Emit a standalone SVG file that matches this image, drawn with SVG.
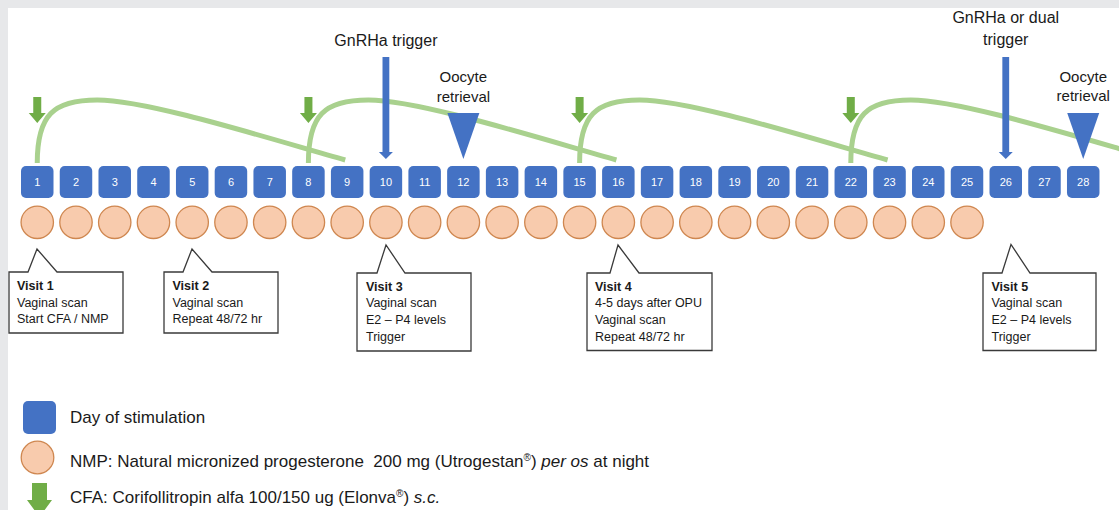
<svg xmlns="http://www.w3.org/2000/svg" width="1119" height="510" viewBox="0 0 1119 510">
<style>
.day rect{fill:#4472C4}
.day text{fill:#fff;font-family:"Liberation Sans",Arial,sans-serif;font-size:11px;text-anchor:middle}
.nmp circle{fill:#F8CBAD;stroke:#CF8750;stroke-width:1.3}
.curve{fill:none;stroke:#A9D18E;stroke-width:5;stroke-linecap:butt}
.cfa{fill:#70AD47}
.trig{fill:#4472C4}
.lbl{font-family:"Liberation Sans",Arial,sans-serif;font-size:16px;fill:#1a1a1a;text-anchor:middle}
.lbl2{font-family:"Liberation Sans",Arial,sans-serif;font-size:15px;fill:#1a1a1a;text-anchor:middle}
.call path{fill:#fff;stroke:#3a3a3a;stroke-width:1.3}
.call text{font-family:"Liberation Sans",Arial,sans-serif;font-size:12.5px;fill:#1a1a1a}
.call .b{font-weight:bold}
.leg{font-family:"Liberation Sans",Arial,sans-serif;font-size:17px;fill:#1a1a1a}
</style>
<defs>
<path id="garrow" d="M-4,0 H4 V16 H8.5 L0,26 L-8.5,16 H-4 Z"/>
<path id="barrow" d="M-3.4,0 H3.4 V95 H7 L0,102 L-7,95 H-3.4 Z"/>
<path id="tri" d="M-16,0 H16 L0,46 Z"/>
<path id="gcurve" d="M0,163 C0,115 16,100 60,100 C110,100 230,138 308,160"/>
</defs>
<rect x="0" y="0" width="1119" height="510" fill="#E7E8EA"/>
<rect x="8" y="8" width="1111" height="502" fill="#fff"/>

<g id="connectors">
<use href="#gcurve" class="curve" x="37.25"/>
<use href="#gcurve" class="curve" x="308.4"/>
<use href="#gcurve" class="curve" x="579.6"/>
<use href="#gcurve" class="curve" x="850.8"/>
</g>

<g id="days">
<g id="day1" class="day"><rect x="21" y="166" width="32.5" height="32" rx="5"/><text x="37.25" y="186">1</text></g>
<g id="day2" class="day"><rect x="59.74" y="166" width="32.5" height="32" rx="5"/><text x="75.99" y="186">2</text></g>
<g id="day3" class="day"><rect x="98.48" y="166" width="32.5" height="32" rx="5"/><text x="114.73" y="186">3</text></g>
<g id="day4" class="day"><rect x="137.22" y="166" width="32.5" height="32" rx="5"/><text x="153.47" y="186">4</text></g>
<g id="day5" class="day"><rect x="175.96" y="166" width="32.5" height="32" rx="5"/><text x="192.21" y="186">5</text></g>
<g id="day6" class="day"><rect x="214.7" y="166" width="32.5" height="32" rx="5"/><text x="230.95" y="186">6</text></g>
<g id="day7" class="day"><rect x="253.44" y="166" width="32.5" height="32" rx="5"/><text x="269.69" y="186">7</text></g>
<g id="day8" class="day"><rect x="292.18" y="166" width="32.5" height="32" rx="5"/><text x="308.43" y="186">8</text></g>
<g id="day9" class="day"><rect x="330.92" y="166" width="32.5" height="32" rx="5"/><text x="347.17" y="186">9</text></g>
<g id="day10" class="day"><rect x="369.66" y="166" width="32.5" height="32" rx="5"/><text x="385.91" y="186">10</text></g>
<g id="day11" class="day"><rect x="408.4" y="166" width="32.5" height="32" rx="5"/><text x="424.65" y="186">11</text></g>
<g id="day12" class="day"><rect x="447.14" y="166" width="32.5" height="32" rx="5"/><text x="463.39" y="186">12</text></g>
<g id="day13" class="day"><rect x="485.88" y="166" width="32.5" height="32" rx="5"/><text x="502.13" y="186">13</text></g>
<g id="day14" class="day"><rect x="524.62" y="166" width="32.5" height="32" rx="5"/><text x="540.87" y="186">14</text></g>
<g id="day15" class="day"><rect x="563.36" y="166" width="32.5" height="32" rx="5"/><text x="579.61" y="186">15</text></g>
<g id="day16" class="day"><rect x="602.1" y="166" width="32.5" height="32" rx="5"/><text x="618.35" y="186">16</text></g>
<g id="day17" class="day"><rect x="640.84" y="166" width="32.5" height="32" rx="5"/><text x="657.09" y="186">17</text></g>
<g id="day18" class="day"><rect x="679.58" y="166" width="32.5" height="32" rx="5"/><text x="695.83" y="186">18</text></g>
<g id="day19" class="day"><rect x="718.32" y="166" width="32.5" height="32" rx="5"/><text x="734.57" y="186">19</text></g>
<g id="day20" class="day"><rect x="757.06" y="166" width="32.5" height="32" rx="5"/><text x="773.31" y="186">20</text></g>
<g id="day21" class="day"><rect x="795.8" y="166" width="32.5" height="32" rx="5"/><text x="812.05" y="186">21</text></g>
<g id="day22" class="day"><rect x="834.54" y="166" width="32.5" height="32" rx="5"/><text x="850.79" y="186">22</text></g>
<g id="day23" class="day"><rect x="873.28" y="166" width="32.5" height="32" rx="5"/><text x="889.53" y="186">23</text></g>
<g id="day24" class="day"><rect x="912.02" y="166" width="32.5" height="32" rx="5"/><text x="928.27" y="186">24</text></g>
<g id="day25" class="day"><rect x="950.76" y="166" width="32.5" height="32" rx="5"/><text x="967.01" y="186">25</text></g>
<g id="day26" class="day"><rect x="989.5" y="166" width="32.5" height="32" rx="5"/><text x="1005.75" y="186">26</text></g>
<g id="day27" class="day"><rect x="1028.24" y="166" width="32.5" height="32" rx="5"/><text x="1044.49" y="186">27</text></g>
<g id="day28" class="day"><rect x="1066.98" y="166" width="32.5" height="32" rx="5"/><text x="1083.23" y="186">28</text></g>
</g>

<g id="nmp" class="nmp">
<circle cx="37.25" cy="222.3" r="16.2"/><circle cx="75.99" cy="222.3" r="16.2"/><circle cx="114.73" cy="222.3" r="16.2"/><circle cx="153.47" cy="222.3" r="16.2"/><circle cx="192.21" cy="222.3" r="16.2"/><circle cx="230.95" cy="222.3" r="16.2"/><circle cx="269.69" cy="222.3" r="16.2"/><circle cx="308.43" cy="222.3" r="16.2"/><circle cx="347.17" cy="222.3" r="16.2"/><circle cx="385.91" cy="222.3" r="16.2"/><circle cx="424.65" cy="222.3" r="16.2"/><circle cx="463.39" cy="222.3" r="16.2"/><circle cx="502.13" cy="222.3" r="16.2"/><circle cx="540.87" cy="222.3" r="16.2"/><circle cx="579.61" cy="222.3" r="16.2"/><circle cx="618.35" cy="222.3" r="16.2"/><circle cx="657.09" cy="222.3" r="16.2"/><circle cx="695.83" cy="222.3" r="16.2"/><circle cx="734.57" cy="222.3" r="16.2"/><circle cx="773.31" cy="222.3" r="16.2"/><circle cx="812.05" cy="222.3" r="16.2"/><circle cx="850.79" cy="222.3" r="16.2"/><circle cx="889.53" cy="222.3" r="16.2"/><circle cx="928.27" cy="222.3" r="16.2"/><circle cx="967.01" cy="222.3" r="16.2"/>
</g>

<g id="cfa-doses" class="cfa">
<use href="#garrow" x="37.25" y="97"/>
<use href="#garrow" x="308.43" y="97"/>
<use href="#garrow" x="579.61" y="97"/>
<use href="#garrow" x="850.79" y="97"/>
</g>

<g id="trigger1"><use href="#barrow" class="trig" x="385.91" y="57"/><text class="lbl" x="385.91" y="46">GnRHa trigger</text></g>
<g id="opu1"><use href="#tri" class="trig" x="463.39" y="113"/><text class="lbl2" x="463.39" y="82">Oocyte</text><text class="lbl2" x="463.39" y="102">retrieval</text></g>
<g id="trigger2"><use href="#barrow" class="trig" x="1005.75" y="57"/><text class="lbl" x="1005.75" y="23">GnRHa or dual</text><text class="lbl" x="1005.75" y="45">trigger</text></g>
<g id="opu2"><use href="#tri" class="trig" x="1083.23" y="113"/><text class="lbl2" x="1083.23" y="82">Oocyte</text><text class="lbl2" x="1083.23" y="101">retrieval</text></g>

<g id="visit1" class="call">
<path d="M9,272 H28 L37,249 L57,272 H123 V333 H9 Z"/>
<text class="b" x="17" y="290">Visit 1</text>
<text x="17" y="306.5">Vaginal scan</text>
<text x="17" y="323">Start CFA / NMP</text>
</g>
<g id="visit2" class="call">
<path d="M164,272 H183 L192,249 L212,272 H278 V333 H164 Z"/>
<text class="b" x="172.5" y="290">Visit 2</text>
<text x="172.5" y="306.5">Vaginal scan</text>
<text x="172.5" y="323">Repeat 48/72 hr</text>
</g>
<g id="visit3" class="call">
<path d="M357,273 H377 L386,245 L405,273 H471 V351 H357 Z"/>
<text class="b" x="366" y="290.5">Visit 3</text>
<text x="366" y="307">Vaginal scan</text>
<text x="366" y="324">E2 – P4 levels</text>
<text x="366" y="341">Trigger</text>
</g>
<g id="visit4" class="call">
<path d="M587,273 H610 L618,245 L639,273 H712 V350.5 H587 Z"/>
<text class="b" x="595" y="290.5">Visit 4</text>
<text x="595" y="307">4-5 days after OPU</text>
<text x="595" y="324">Vaginal scan</text>
<text x="595" y="341">Repeat 48/72 hr</text>
</g>
<g id="visit5" class="call">
<path d="M983,273 H1002 L1011,244.5 L1030,273 H1096 V350.5 H983 Z"/>
<text class="b" x="991.5" y="290.5">Visit 5</text>
<text x="991.5" y="307">Vaginal scan</text>
<text x="991.5" y="324">E2 – P4 levels</text>
<text x="991.5" y="341">Trigger</text>
</g>

<g id="legend">
<rect x="23" y="401" width="33" height="33" rx="5" fill="#4472C4"/>
<text class="leg" x="70" y="423">Day of stimulation</text>
<circle cx="37.5" cy="457.5" r="16.3" fill="#F8CBAD" stroke="#CF8750" stroke-width="1.3"/>
<text class="leg" x="70" y="467" xml:space="preserve">NMP: Natural micronized progesterone  200 mg (Utrogestan<tspan font-size="10" dy="-6">®</tspan><tspan dy="6">) </tspan><tspan font-style="italic">per os</tspan> at night</text>
<path d="M32,483 H47 V500 H52 L39.5,517 L27,500 H32 Z" fill="#70AD47"/>
<text class="leg" x="70" y="503">CFA: Corifollitropin alfa 100/150 ug (Elonva<tspan font-size="10" dy="-6">®</tspan><tspan dy="6">) </tspan><tspan font-style="italic">s.c.</tspan></text>
</g>
</svg>
